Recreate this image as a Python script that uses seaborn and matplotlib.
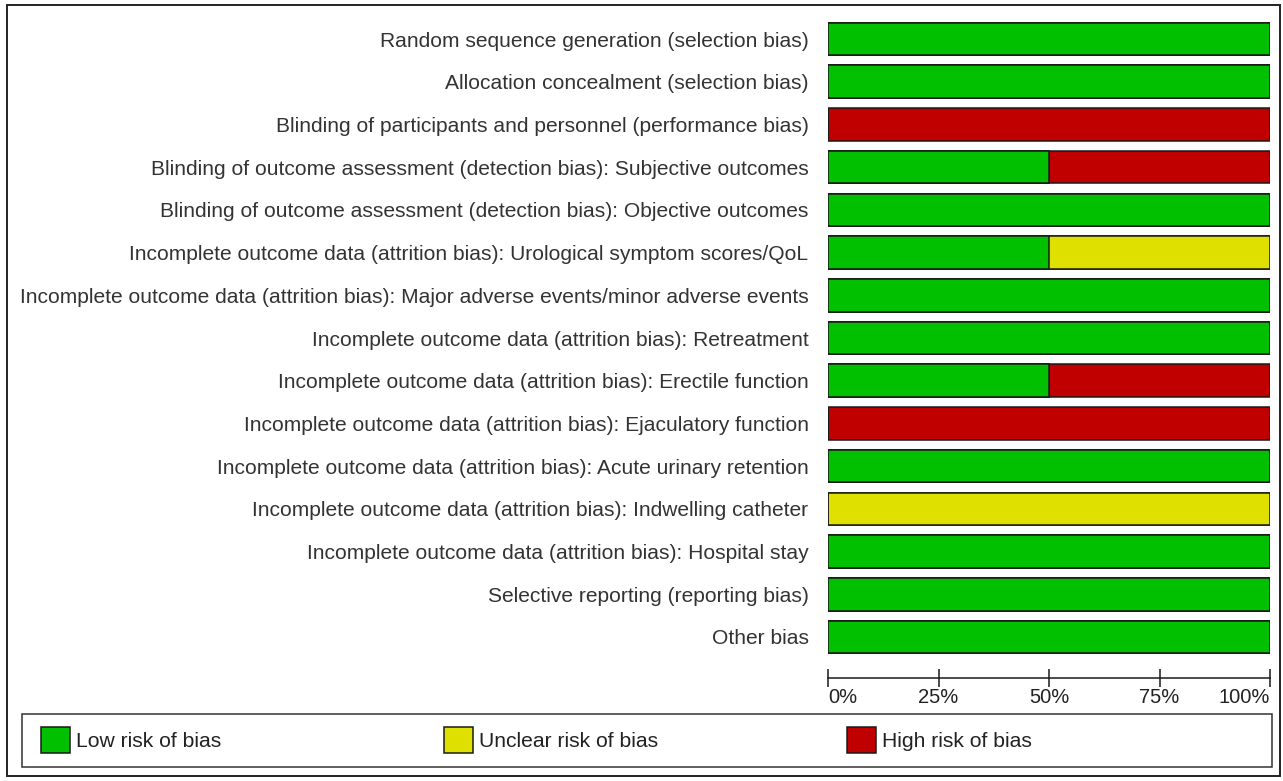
import matplotlib
matplotlib.use("Agg")
import matplotlib.pyplot as plt
from matplotlib.patches import Patch, Rectangle
import pandas as pd
import seaborn as sns

# risk of bias domains, top to bottom
domains = [
	"Random sequence generation (selection bias)",
	"Allocation concealment (selection bias)",
	"Blinding of participants and personnel (performance bias)",
	"Blinding of outcome assessment (detection bias): Subjective outcomes",
	"Blinding of outcome assessment (detection bias): Objective outcomes",
	"Incomplete outcome data (attrition bias): Urological symptom scores/QoL",
	"Incomplete outcome data (attrition bias): Major adverse events/minor adverse events",
	"Incomplete outcome data (attrition bias): Retreatment",
	"Incomplete outcome data (attrition bias): Erectile function",
	"Incomplete outcome data (attrition bias): Ejaculatory function",
	"Incomplete outcome data (attrition bias): Acute urinary retention",
	"Incomplete outcome data (attrition bias): Indwelling catheter",
	"Incomplete outcome data (attrition bias): Hospital stay",
	"Selective reporting (reporting bias)",
	"Other bias",
]
low_risk = [100, 100, 0, 50, 100, 50, 100, 100, 50, 0, 100, 0, 100, 100, 100]
unclear_risk = [0, 0, 0, 0, 0, 50, 0, 0, 0, 0, 0, 100, 0, 0, 0]
high_risk = [0, 0, 100, 50, 0, 0, 0, 0, 50, 100, 0, 0, 0, 0, 0]

tick_vals = [0, 25, 50, 75, 100]
tick_labels = ["0%", "25%", "50%", "75%", "100%"]

colors = {"Low risk of bias": "#00c000",
		  "Unclear risk of bias": "#e0e000",
		  "High risk of bias": "#c00000"}

df = pd.DataFrame({"domain": domains, "low": low_risk,
				   "unclear": unclear_risk, "high": high_risk})
# cumulative totals, drawn back to front so segments stack
df["c_high"] = df["low"] + df["unclear"] + df["high"]
df["c_unclear"] = df["low"] + df["unclear"]
df["c_low"] = df["low"]

sns.set_style("white")
plt.rcParams["font.family"] = ["Liberation Sans", "DejaVu Sans"]

W, H = 1283, 781
EDGE = "#1a1a1a"
fig = plt.figure(figsize=(W / 100, H / 100), dpi=100)
ax = fig.add_axes([828 / W, 1 - 678 / H, (1270 - 828) / W, (678 - 15) / H])

for col, name in [("c_high", "High risk of bias"),
				  ("c_unclear", "Unclear risk of bias"),
				  ("c_low", "Low risk of bias")]:
	sns.barplot(data=df, x=col, y="domain", order=domains, orient="h",
				color=colors[name], saturation=1, width=0.76,
				edgecolor=EDGE, linewidth=1.1, ax=ax)

ax.set_xlim(0, 100)
ax.set_ylim(14.96, -0.562)
ax.set_xlabel("")
ax.set_ylabel("")
for side in ["top", "right", "left"]:
	ax.spines[side].set_visible(False)
ax.spines["bottom"].set_color(EDGE)
ax.spines["bottom"].set_linewidth(1.1)

ax.set_xticks(tick_vals)
ax.set_xticklabels(tick_labels, fontsize=14.5, color="#222222")
xl = ax.get_xticklabels()
xl[0].set_ha("left")
xl[-1].set_ha("right")
ax.tick_params(axis="x", direction="inout", length=13, width=1.1,
			   color=EDGE, pad=1, bottom=True)
ax.tick_params(axis="y", length=0, pad=14, labelsize=15.1, labelcolor="#333333")

# legend strip along the bottom: one entry per column
leg_x = [41, 444, 847]
for (name, c), x0 in zip(colors.items(), leg_x):
	h = Patch(facecolor=c, edgecolor=EDGE, linewidth=1.1, label=name)
	fig.legend(handles=[h], loc="center left",
			   bbox_to_anchor=(x0 / W, 1 - 740 / H), frameon=False,
			   fontsize=15.2, borderpad=0, borderaxespad=0,
			   handlelength=1.35, handleheight=1.55, handletextpad=0.3,
			   labelcolor="#222222")
fig.patches.append(Rectangle((22 / W, 1 - 767 / H), 1250 / W, 53 / H,
							 transform=fig.transFigure, fill=False,
							 linewidth=1.1, edgecolor="#333333"))

# outer border
fig.patches.append(Rectangle((7 / W, 5 / H), (1280 - 7) / W, (776 - 5) / H,
							 transform=fig.transFigure, fill=False,
							 linewidth=1.4, edgecolor="#222222"))

fig.savefig("out.png", dpi=100)
